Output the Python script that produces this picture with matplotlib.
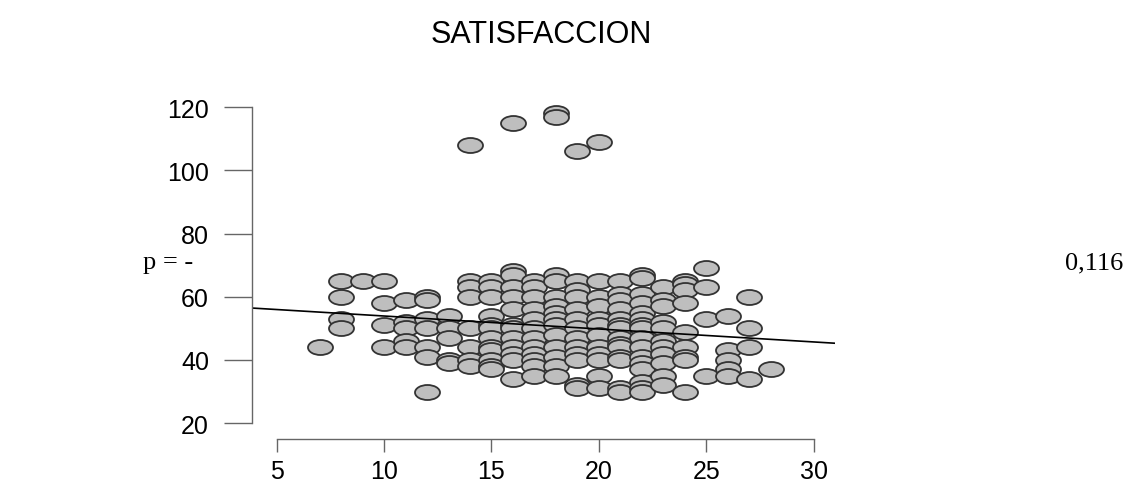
import numpy as np
import matplotlib.pyplot as plt
from matplotlib.path import Path
from matplotlib.transforms import Affine2D

# values, one group per x value
x_07, y_07 = 7, [44]
x_08, y_08 = 8, [65, 60, 53, 50]
x_09, y_09 = 9, [65]
x_10, y_10 = 10, [65, 58, 51, 44]
x_11, y_11 = 11, [59, 52, 50, 46, 44]
x_12, y_12 = 12, [60, 59, 53, 50, 44, 41, 30]
x_13, y_13 = 13, [54, 50, 47, 40, 39]
x_14, y_14 = 14, [108, 65, 63, 60, 50, 44, 40, 38]
x_15, y_15 = 15, [65, 63, 60, 54, 51, 50, 47, 44, 43, 40, 38, 37]
x_16, y_16 = 16, [115, 68, 67, 63, 60, 56, 51, 50, 47, 44, 42, 40, 34]
x_17, y_17 = 17, [65, 63, 60, 56, 53, 50, 47, 44, 42, 40, 38, 35]
x_18, y_18 = 18, [118, 117, 67, 65, 60, 57, 55, 53, 51, 48, 44, 41, 38, 35]
x_19, y_19 = 19, [106, 65, 62, 60, 56, 53, 50, 47, 44, 42, 40, 32, 31]
x_20, y_20 = 20, [109, 65, 60, 57, 53, 51, 48, 44, 42, 40, 35, 31]
x_21, y_21 = 21, [65, 61, 59, 56, 53, 51, 50, 47, 45, 44, 41, 40, 31, 30]
x_22, y_22 = 22, [67, 66, 61, 58, 55, 53, 51, 50, 47, 44, 41, 39, 37, 33, 31, 30]
x_23, y_23 = 23, [63, 59, 57, 52, 50, 46, 44, 42, 39, 35, 32]
x_24, y_24 = 24, [65, 64, 62, 58, 49, 44, 41, 40, 30]
x_25, y_25 = 25, [69, 63, 53, 35]
x_26, y_26 = 26, [54, 43, 40, 37, 35]
x_27, y_27 = 27, [60, 50, 44, 34]
x_28, y_28 = 28, [37]

groups = [(x_07, y_07), (x_08, y_08), (x_09, y_09), (x_10, y_10), (x_11, y_11),
          (x_12, y_12), (x_13, y_13), (x_14, y_14), (x_15, y_15), (x_16, y_16),
          (x_17, y_17), (x_18, y_18), (x_19, y_19), (x_20, y_20), (x_21, y_21),
          (x_22, y_22), (x_23, y_23), (x_24, y_24), (x_25, y_25), (x_26, y_26),
          (x_27, y_27), (x_28, y_28)]

# regression line as drawn in the picture
intercept = 58.0
slope = -0.41

title = 'SATISFACCION'
left_text = 'p = -'
right_text = '0,116'
x_ticks = [5, 10, 15, 20, 25, 30]
y_ticks = [20, 40, 60, 80, 100, 120]

x = np.concatenate([[gx] * len(gy) for gx, gy in groups])
y = np.concatenate([gy for gx, gy in groups])

# squashed circle, the original picture is stretched sideways
ellipse = Path.unit_circle().transformed(Affine2D().scale(1.0, 0.6))

fig = plt.figure(figsize=(11.4, 4.85), dpi=100)
ax = fig.add_axes([0.2211, 0.0928, 0.5114, 0.7105])

ax.plot(x, y, linestyle='none', marker=ellipse, markersize=18,
        markerfacecolor='#bebebe', markeredgecolor='#333333', markeredgewidth=1.3)
ax.axline((0, intercept), slope=slope, color='black', lw=1.2)

ax.set_xlim(3.85, 31)
ax.set_ylim(15, 124)
ax.set_xticks(x_ticks)
ax.set_yticks(y_ticks)

for s in ['top', 'right']:
    ax.spines[s].set_visible(False)
ax.spines['left'].set_bounds(20, 120)
ax.spines['bottom'].set_bounds(5, 30)
for s in ['left', 'bottom']:
    ax.spines[s].set_color('#666666')
    ax.spines[s].set_linewidth(1.0)

ax.tick_params(axis='y', length=20, width=1.0, color='#666666', pad=11, labelsize=18)
ax.tick_params(axis='x', length=9.5, width=1.0, color='#666666', pad=5, labelsize=18)
for lab in ax.get_xticklabels() + ax.get_yticklabels():
    lab.set_fontfamily('Liberation Sans')

fig.text(0.4745, 1 - 35 / 485, title, ha='center', va='center',
         fontsize=22, family='Liberation Sans')
fig.text(143 / 1140, 1 - 263 / 485, left_text, ha='left', va='center',
         fontsize=19, family='Liberation Serif')
fig.text(1065 / 1140, 1 - 263 / 485, right_text, ha='left', va='center',
         fontsize=19, family='Liberation Serif')

plt.savefig('out.png', dpi=100)
